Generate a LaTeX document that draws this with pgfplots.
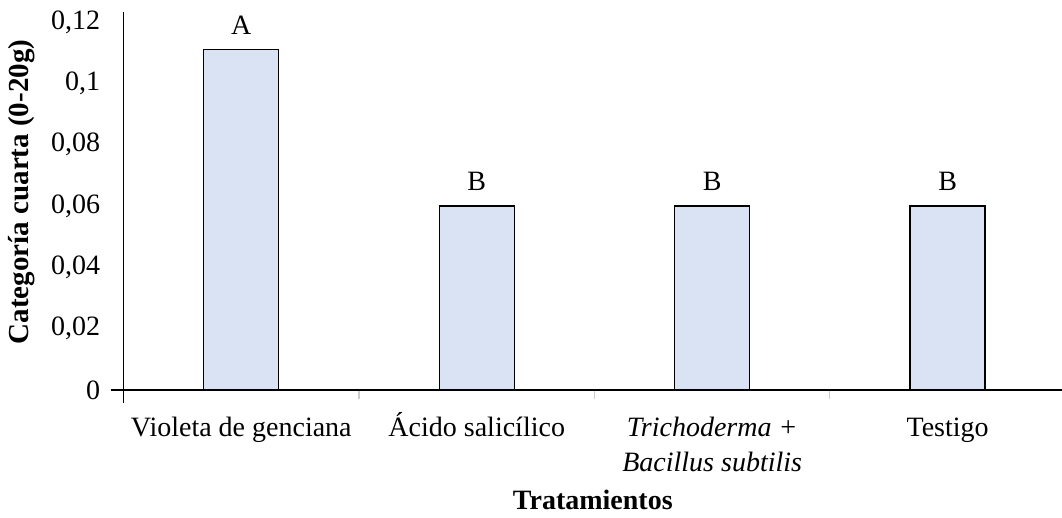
\documentclass[border=0pt]{standalone}
\usepackage{pgfplots}
\pgfplotsset{compat=1.18}
\usepackage{fontspec}
\setmainfont{Liberation Serif}
\definecolor{barfill}{HTML}{DAE3F3}
\newcommand\fs{\fontsize{28}{35}\selectfont}
\begin{document}
\begin{tikzpicture}
\begin{axis}[
  scale only axis,
  width=938.4pt, height=378pt,
  xmin=-0.5, xmax=3.486,
  ymin=0, ymax=0.12326,
  axis lines=left,
  axis line style={-, line width=1.2pt, black},
  xtick={0,1,2,3},
  xticklabels={\strut Violeta de genciana, \strut Ácido salicílico, {\strut\itshape Trichoderma +\\\strut\itshape Bacillus subtilis}, \strut Testigo},
  minor xtick={0.5,1.5,2.5},
  major tick length=0pt,
  minor tick length=9pt,
  tick style={line width=1.2pt},
  minor tick style={gray!40, line width=1.2pt},
  tick align=outside,
  xticklabel style={font=\fs, align=center, anchor=north, yshift=-22pt, inner sep=0pt},
  ytick={0,0.02,0.04,0.06,0.08,0.1,0.12},
  yticklabels={0,{0,02},{0,04},{0,06},{0,08},{0,1},{0,12}},
  yticklabel style={font=\fs, anchor=east, xshift=-20pt},
  ylabel={\bfseries Categoría cuarta (0-20g)},
  ylabel style={font=\fontsize{29}{35}\selectfont, at={(axis description cs:-0.1083,0.524)}, anchor=center},
  xlabel={\bfseries Tratamientos},
  xlabel style={font=\fs, at={(axis description cs:0.5,0)}, anchor=center, yshift=-110pt},
  clip=false,
]
\addplot[ybar, bar width=75pt, bar shift=0pt, fill=barfill, draw=black, line width=1.2pt,
  point meta=explicit symbolic,
  nodes near coords,
  every node near coord/.append style={font=\fs, anchor=south, yshift=11pt, text=black}]
  table[meta=lab] {
x y lab
0 0.111 A
1 0.06 B
2 0.06 B
3 0.06 B
};
\end{axis}
\draw[line width=1.2pt] (current axis.south west) -- ++(-13pt,0);
\draw[line width=1.2pt] (current axis.south west) -- ++(0,-13pt);
\pgfresetboundingbox
\path[use as bounding box] (current axis.south west) ++(-123.6pt,-128pt) rectangle ++(1062pt,518pt);
\end{tikzpicture}
\end{document}
